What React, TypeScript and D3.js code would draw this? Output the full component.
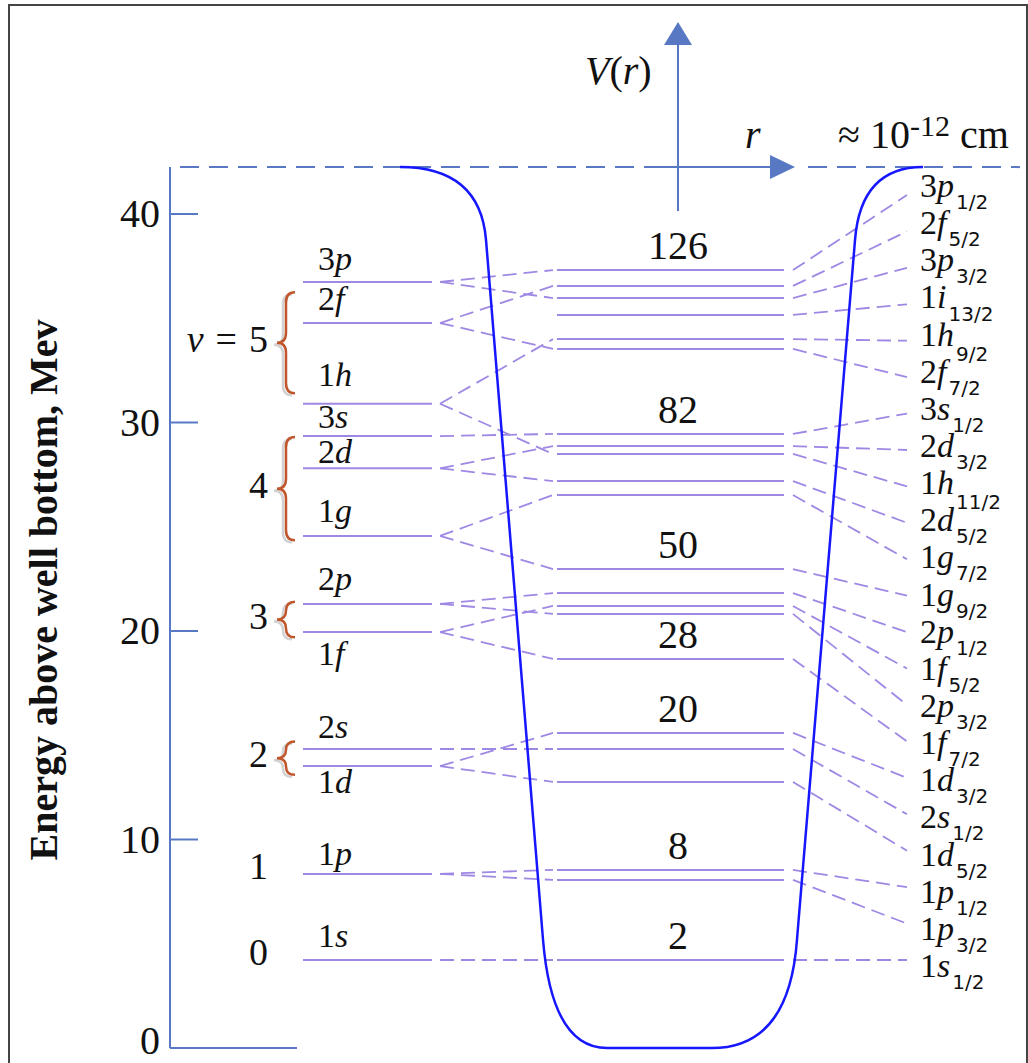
import React from "react";
import * as d3 from "d3";

const W = 1028;
const H = 1063;

// Energy axis ticks (MeV)
const axisTicks = [0, 10, 20, 30, 40];
const wellRimEnergy = 42.25;

// Harmonic-oscillator-like levels (left column)
const oscNames = ["1s", "1p", "1d", "2s", "1f", "2p", "1g", "2d", "3s", "1h", "2f", "3p"];
const oscEnergies = [4.22, 8.35, 13.52, 14.34, 19.95, 21.3, 24.56, 27.8, 29.35, 30.9, 34.77, 36.74];

// Spin-orbit split levels (middle column)
const shellNames = [
  "1s1/2", "1p3/2", "1p1/2", "1d5/2", "2s1/2", "1d3/2", "1f7/2", "2p3/2", "1f5/2", "2p1/2", "1g9/2",
  "1g7/2", "2d5/2", "1h11/2", "2d3/2", "3s1/2", "2f7/2", "1h9/2", "1i13/2", "3p3/2", "2f5/2", "3p1/2",
];
const shellEnergies = [
  4.22, 8.06, 8.54, 12.76, 14.34, 15.11, 18.66, 20.82, 21.2, 21.82, 22.97,
  26.52, 27.19, 28.49, 28.87, 29.45, 33.53, 34.0, 35.16, 35.97, 36.55, 37.31,
];

// Which oscillator level splits into which shell level
const splitFrom = ["1s", "1p", "1p", "1d", "2s", "1d", "1f", "2p", "1f", "2p", "1g",
  "1g", "2d", "1h", "2d", "3s", "2f", "1h", "", "3p", "2f", "3p"];

// Magic numbers and the level they sit above
const magicNumbers = ["2", "8", "20", "28", "50", "82", "126"];
const magicOver = ["1s1/2", "1p1/2", "1d3/2", "1f7/2", "1g9/2", "3s1/2", "3p1/2"];

// Oscillator quantum number groups (braces)
const braceV = ["5", "4", "3", "2"];
const braceHi = [36.25, 29.3, 21.4, 14.7];
const braceLo = [31.4, 24.35, 19.7, 13.1];
const plainV = ["1", "0"];
const plainVLevel = ["1p", "1s"];

// Potential well profile: [r, E] (r in units of the rim radius)
const wellProfile: [number, number][] = [
  [-1, 42.25], [-0.694, 42.25], [-0.671, 38.75], [-0.453, 5.18], [-0.419, 0], [-0.208, 0],
  [0.193, 0], [0.488, 0], [0.518, 5.18], [0.74, 38.75], [0.762, 42.25], [1, 42.25],
];

const SERIF = "'Liberation Serif', 'Times New Roman', serif";
const SANS = "'DejaVu Sans', sans-serif";
const AXIS = "#5878c4";
const LEVEL = "#9f88e4";
const WELL = "#1616ff";
const BRACE = "#c0562b";

export default function App() {
  const y = d3.scaleLinear().domain([0, 40]).range([1048, 214]);
  const r = d3.scaleLinear().domain([-1, 1]).range([400, 923]);

  const oscE: Record<string, number> = {};
  oscNames.forEach((n, i) => (oscE[n] = oscEnergies[i]));
  const shE: Record<string, number> = {};
  shellNames.forEach((n, i) => (shE[n] = shellEnergies[i]));

  const rightOrder = shellNames.slice().sort((a, b) => shE[b] - shE[a]);
  const endY = d3.scalePoint<string>().domain(rightOrder).range([195, 960]);
  const labY = d3.scalePoint<string>().domain(rightOrder).range([197, 977]);

  // Well path
  const p = d3.path();
  const P = wellProfile.map(([rr, e]) => [r(rr), y(e)] as [number, number]);
  p.moveTo(P[0][0], P[0][1]);
  p.quadraticCurveTo(P[1][0], P[1][1], P[2][0], P[2][1]);
  p.lineTo(P[3][0], P[3][1]);
  p.quadraticCurveTo(P[4][0], P[4][1], P[5][0], P[5][1]);
  p.lineTo(P[6][0], P[6][1]);
  p.quadraticCurveTo(P[7][0], P[7][1], P[8][0], P[8][1]);
  p.lineTo(P[9][0], P[9][1]);
  p.quadraticCurveTo(P[10][0], P[10][1], P[11][0], P[11][1]);

  const leftX0 = 303, leftX1 = 432;
  const midX0 = 557, midX1 = 784;
  const rimY = y(wellRimEnergy);

  const oscLabelDy: Record<string, number> = {
    "1s": -13, "1p": -9, "1d": 27, "2s": -11, "1f": 33, "2p": -14,
    "1g": -14, "2d": -5, "3s": -8, "1h": -18, "2f": -13, "3p": -12,
  };

  const bracePath = (top: number, bot: number, xe: number) => {
    const xm = xe - 9, xt = xe - 18;
    const mid = (top + bot) / 2;
    const rr = Math.min(10, (bot - top) / 4);
    const bp = d3.path();
    bp.moveTo(xe, top);
    bp.quadraticCurveTo(xm, top, xm, top + rr);
    bp.lineTo(xm, mid - rr);
    bp.quadraticCurveTo(xm, mid, xt, mid);
    bp.quadraticCurveTo(xm, mid, xm, mid + rr);
    bp.lineTo(xm, bot - rr);
    bp.quadraticCurveTo(xm, bot, xe, bot);
    return bp.toString();
  };

  return (
    <svg width={W} height={H} style={{ position: "absolute", left: 0, top: 0, background: "#fff" }}>
      <rect x={0} y={0} width={W} height={H} fill="#fff" />
      <rect x={9} y={5} width={1018} height={1080} fill="none" stroke="#444" strokeWidth={2} />

      {/* top dashed line (r axis) */}
      <line x1={170} x2={655} y1={rimY} y2={rimY} stroke={AXIS} strokeWidth={2} strokeDasharray="19,10" strokeDashoffset={-10} />
      <line x1={808} x2={1020} y1={rimY} y2={rimY} stroke={AXIS} strokeWidth={2} strokeDasharray="19,10" />
      <line x1={655} x2={775} y1={rimY} y2={rimY} stroke={AXIS} strokeWidth={2} />
      <polygon points={`795,${rimY} 770,${rimY - 12} 770,${rimY + 12}`} fill={AXIS} />

      {/* V(r) axis */}
      <line x1={678} x2={678} y1={211} y2={40} stroke={AXIS} strokeWidth={2} />
      <polygon points={`678,22 664,45 692,45`} fill={AXIS} />

      {/* energy axis */}
      <line x1={170} x2={170} y1={rimY} y2={y(0)} stroke={AXIS} strokeWidth={2} />
      <line x1={170} x2={297} y1={y(0)} y2={y(0)} stroke={AXIS} strokeWidth={2} />
      {axisTicks.map((t) => (
        <g key={t}>
          {t > 0 && <line x1={170} x2={198} y1={y(t)} y2={y(t)} stroke={AXIS} strokeWidth={2} />}
          <text x={160} y={y(t) + (t === 0 ? 6 : 13)} textAnchor="end" fontFamily={SERIF} fontSize={40} fill="#111">
            {t}
          </text>
        </g>
      ))}
      <text transform={`translate(57,590) rotate(-90)`} textAnchor="middle" fontFamily={SERIF} fontWeight="bold" fontSize={40} fill="#111">
        Energy above well bottom, Mev
      </text>

      {/* connectors left -> middle */}
      {shellNames.map((s, i) =>
        splitFrom[i] ? (
          <line key={"cl" + s} x1={440} x2={553} y1={y(oscE[splitFrom[i]])} y2={y(shE[s])} stroke={LEVEL} strokeWidth={1.8} strokeDasharray="14,7" />
        ) : null
      )}
      {/* connectors middle -> right labels */}
      {shellNames.map((s) => (
        <line key={"cr" + s} x1={793} x2={907} y1={y(shE[s])} y2={endY(s)!} stroke={LEVEL} strokeWidth={1.8} strokeDasharray="14,7" />
      ))}

      {/* left levels */}
      {oscNames.map((n, i) => (
        <g key={"o" + n}>
          <line x1={leftX0} x2={leftX1} y1={y(oscEnergies[i])} y2={y(oscEnergies[i])} stroke={LEVEL} strokeWidth={2} />
          <text x={318} y={y(oscEnergies[i]) + oscLabelDy[n]} fontFamily={SERIF} fontSize={34} fill="#111">
            {n[0]}
            <tspan fontStyle="italic">{n.slice(1)}</tspan>
          </text>
        </g>
      ))}

      {/* middle levels */}
      {shellNames.map((s, i) => (
        <line key={"m" + s} x1={midX0} x2={midX1} y1={y(shellEnergies[i])} y2={y(shellEnergies[i])} stroke={LEVEL} strokeWidth={2} />
      ))}

      {/* magic numbers */}
      {magicNumbers.map((m, i) => (
        <text key={"mg" + m} x={678} y={y(shE[magicOver[i]]) - 11} textAnchor="middle" fontFamily={SERIF} fontSize={40} fill="#111">
          {m}
        </text>
      ))}

      {/* right labels */}
      {rightOrder.map((s) => {
        const m = s.match(/^(\d)([a-z])(.+)$/)!;
        const dy = m[2] === "i" ? 13 : m[2] === "h" ? 15 : 12;
        return (
          <text key={"rl" + s} x={920} y={labY(s)!} fontFamily={SERIF} fontSize={34} fill="#111">
            {m[1]}
            <tspan fontStyle="italic">{m[2]}</tspan>
            <tspan fontFamily={SANS} fontSize={20} dx={2} dy={dy}>{m[3]}</tspan>
          </text>
        );
      })}

      {/* braces and oscillator quantum numbers */}
      {braceV.map((v, i) => {
        const top = y(braceHi[i]);
        const bot = y(braceLo[i]);
        const mid = (top + bot) / 2;
        return (
          <g key={"b" + v}>
            <path d={bracePath(top + 2, bot + 2, 292)} fill="none" stroke="#d2d2d2" strokeWidth={2.5} />
            <path d={bracePath(top, bot, 295)} fill="none" stroke={BRACE} strokeWidth={2.5} />
            <text x={268} y={mid - 4 + 13} textAnchor="end" fontFamily={SERIF} fontSize={38} fill="#111">
              {i === 0 ? (
                <>
                  <tspan fontStyle="italic">v</tspan>
                  <tspan dx={12}>=</tspan>
                  <tspan dx={12}>{v}</tspan>
                </>
              ) : (
                v
              )}
            </text>
          </g>
        );
      })}
      {plainV.map((v, i) => (
        <text key={"pv" + v} x={268} y={y(oscE[plainVLevel[i]]) - 8 + 13} textAnchor="end" fontFamily={SERIF} fontSize={38} fill="#111">
          {v}
        </text>
      ))}

      {/* potential well */}
      <path d={p.toString()} fill="none" stroke={WELL} strokeWidth={2.5} />

      {/* axis labels */}
      <text x={585} y={84} fontFamily={SERIF} fontSize={40} fill="#111">
        <tspan fontStyle="italic">V</tspan>(<tspan fontStyle="italic">r</tspan>)
      </text>
      <text x={745} y={148} fontFamily={SERIF} fontSize={40} fontStyle="italic" fill="#111">r</text>
      <text x={838} y={148} fontFamily={SERIF} fontSize={40} fill="#111">
        ≈ 10<tspan fontSize={30} dy={-12}>-12</tspan>
        <tspan dy={12}> cm</tspan>
      </text>
    </svg>
  );
}
